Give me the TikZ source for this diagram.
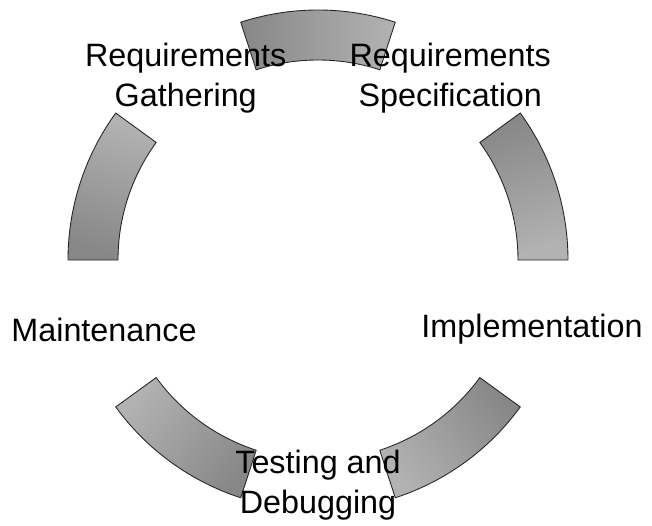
\documentclass[tikz,border=0pt]{standalone}
\usepackage{fontspec}
\setmainfont{Liberation Sans}
\begin{document}
\begin{tikzpicture}[
    segment/.style={draw=black!85,line width=0.5pt,top color=black!47,bottom color=black!30},
    phase/.style={align=center,font=\fontsize{18.4}{23}\selectfont}]
  \useasboundingbox (-6.36,-5.3) rectangle (6.68,5.2);
  \foreach \a in {18,90,162,234,306}
    \draw[segment,shading angle=\a] ({\a-18}:5) arc({\a-18}:{\a+18}:5) -- ({\a+18}:4) arc({\a+18}:{\a-18}:4) -- cycle;
  \node[phase] (gather) at (126:4.5) {Requirements\\Gathering};
  \node[phase] (spec) at (54:4.5) {Requirements\\Specification};
  \node[phase] (impl) at (-18:4.5) {Implementation};
  \node[phase] (test) at (-90:4.5) {Testing and\\Debugging};
  \node[phase] (maint) at (198:4.5) {Maintenance};
\end{tikzpicture}
\end{document}
